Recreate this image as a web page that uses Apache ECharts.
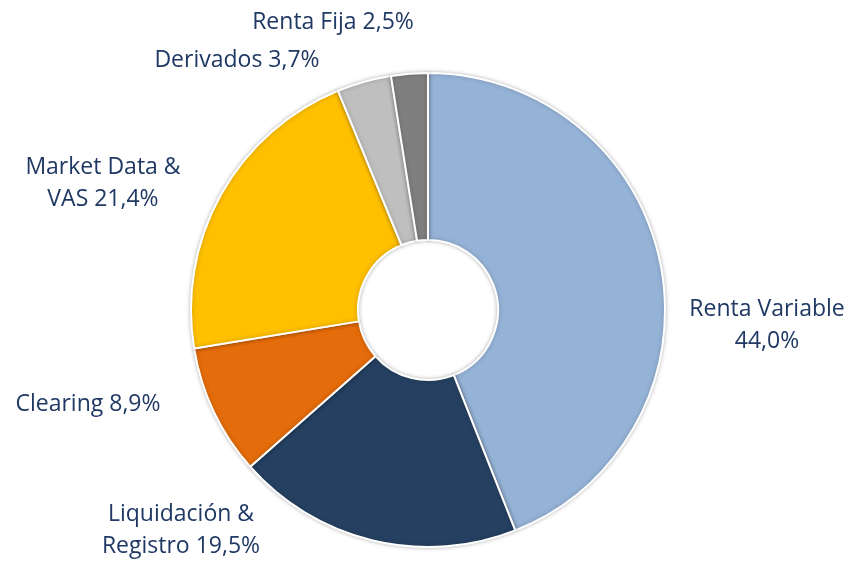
<!DOCTYPE html>
<html><head><meta charset="utf-8">
<script src="https://cdn.jsdelivr.net/npm/echarts@6/dist/echarts.min.js"></script>
<style>html,body{margin:0;padding:0;background:#fff}#c{width:853px;height:561px}</style>
</head><body><div id="c"></div>
<script>
const categories = ['Renta Variable', 'Liquidación & Registro', 'Clearing', 'Market Data & VAS', 'Derivados', 'Renta Fija'];
const values = [44.0, 19.5, 8.9, 21.4, 3.7, 2.5];
const labelTexts = ['Renta Variable\n44,0%', 'Liquidación &\nRegistro 19,5%', 'Clearing 8,9%', 'Market Data &\nVAS 21,4%', 'Derivados 3,7%', 'Renta Fija 2,5%'];
const colors = ['#95B3D7', '#254061', '#E46C0A', '#FFC000', '#BFBFBF', '#7F7F7F'];
const labelPos = [[767, 325], [181, 530], [88, 404], [103, 183], [237, 60], [333, 22]];

const chart = echarts.init(document.getElementById('c'));
chart.setOption({
  animation: false,
  series: [{
    type: 'pie',
    center: [428, 310],
    radius: [70, 237],
    startAngle: 90,
    clockwise: true,
    data: categories.map((n, i) => ({ name: n, value: values[i], itemStyle: { color: colors[i] } })),
    itemStyle: { borderColor: '#fff', borderWidth: 2, shadowBlur: 4, shadowColor: 'rgba(0,0,0,0.25)' },
    label: {
      show: true, position: 'outside',
      formatter: p => labelTexts[p.dataIndex],
      color: '#1F3864', fontFamily: 'Open Sans', fontSize: 23, lineHeight: 32, align: 'center',
      overflow: 'none', width: 300
    },
    labelLine: { show: false },
    labelLayout: p => ({ x: labelPos[p.dataIndex][0], y: labelPos[p.dataIndex][1], align: 'center', verticalAlign: 'middle', hideOverlap: false })
  }]
});
</script></body></html>
